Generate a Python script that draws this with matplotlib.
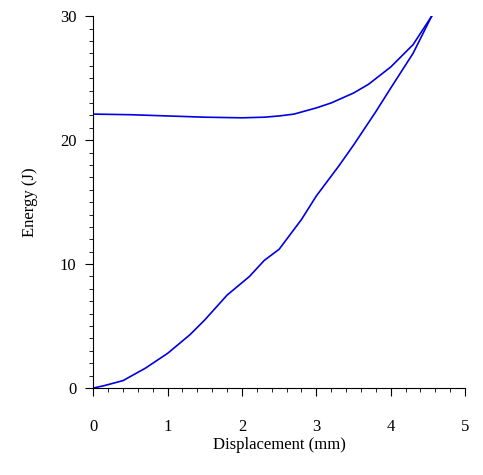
import matplotlib
matplotlib.use("Agg")
import matplotlib.pyplot as plt
from matplotlib.ticker import MultipleLocator

plt.rcParams['font.family'] = ['Liberation Serif', 'DejaVu Serif']

load_x = [0, 0.15, 0.4, 0.7, 1.0, 1.3, 1.5, 1.8, 2.1, 2.3, 2.5, 2.8, 3.0, 3.3, 3.5, 3.8, 4.0, 4.3, 4.55]
load_y = [0, 0.2, 0.6, 1.6, 2.8, 4.3, 5.5, 7.5, 9.0, 10.3, 11.2, 13.6, 15.5, 17.9, 19.6, 22.3, 24.2, 27.0, 30.0]
unload_x = [4.55, 4.3, 4.0, 3.7, 3.5, 3.2, 3.0, 2.7, 2.5, 2.3, 2.0, 1.5, 1.0, 0.5, 0.0]
unload_y = [30.0, 27.7, 25.9, 24.5, 23.8, 23.0, 22.6, 22.1, 21.95, 21.85, 21.8, 21.85, 21.95, 22.05, 22.1]

fig = plt.figure(figsize=(4.83, 4.75), dpi=100)
ax = fig.add_axes([0.193, 0.183, 0.77, 0.783])
ax.plot(load_x, load_y, color='#0000e0', lw=1.2)
ax.plot(unload_x, unload_y, color='#0000e0', lw=1.2)
ax.set_xlim(0, 5)
ax.set_ylim(0, 30)
for s in ['top', 'right']:
    ax.spines[s].set_visible(False)
ax.xaxis.set_major_locator(MultipleLocator(1))
ax.xaxis.set_minor_locator(MultipleLocator(0.2))
ax.yaxis.set_major_locator(MultipleLocator(10))
ax.yaxis.set_minor_locator(MultipleLocator(1))
ax.tick_params(which='major', length=6, labelsize=12)
ax.tick_params(which='minor', length=3)
ax.tick_params(axis='x', which='major', pad=16)
ax.tick_params(axis='y', which='major', pad=6)
ax.set_xlabel('Displacement (mm)', fontsize=12, labelpad=2)
ax.set_ylabel('Energy (J)', fontsize=12, labelpad=16)
fig.savefig('out.png', dpi=100)
